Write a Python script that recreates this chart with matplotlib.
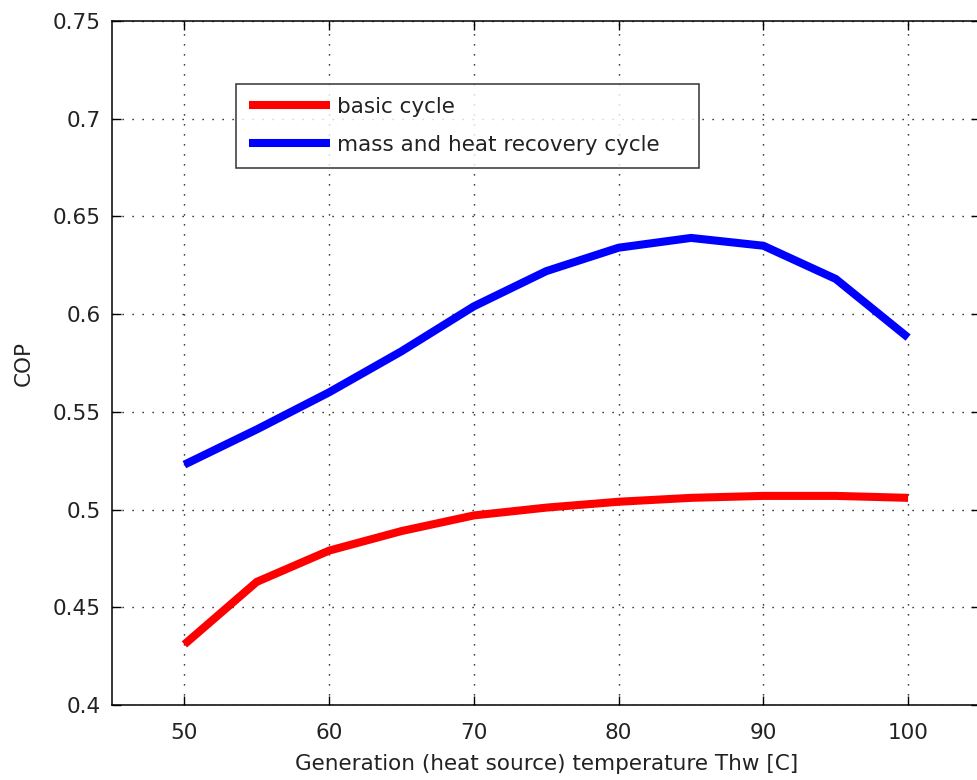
import matplotlib
matplotlib.use("Agg")
import matplotlib.pyplot as plt

# Generation temperature (C) and COP values for the two cycles
temperature = [50, 55, 60, 65, 70, 75, 80, 85, 90, 95, 100]
cop_basic = [0.431, 0.463, 0.479, 0.489, 0.497, 0.501, 0.504, 0.506, 0.507, 0.507, 0.506]
cop_recovery = [0.523, 0.541, 0.560, 0.581, 0.604, 0.622, 0.634, 0.639, 0.635, 0.618, 0.588]

labels = ["basic cycle", "mass and heat recovery cycle"]
x_ticks = [50, 60, 70, 80, 90, 100]
y_ticks = [0.4, 0.45, 0.5, 0.55, 0.6, 0.65, 0.7, 0.75]
y_tick_labels = ["0.4", "0.45", "0.5", "0.55", "0.6", "0.65", "0.7", "0.75"]

plt.rcParams["font.family"] = ["DejaVu Sans"]
FS = 15.5

W, H = 978, 780
fig = plt.figure(figsize=(W / 100, H / 100), dpi=100)
left, right, top, bottom = 112, 980.5, 21, 705
ax = fig.add_axes([left / W, 1 - bottom / H, (right - left) / W, (bottom - top) / H])

ax.plot(temperature, cop_basic, color="#ff0000", lw=5.8, solid_capstyle="butt",
        solid_joinstyle="miter", label=labels[0])
ax.plot(temperature, cop_recovery, color="#0000ff", lw=5.8, solid_capstyle="butt",
        solid_joinstyle="miter", label=labels[1])

ax.set_xlim(45, 105)
ax.set_ylim(0.4, 0.75)
ax.set_xticks(x_ticks)
ax.set_yticks(y_ticks)
ax.set_yticklabels(y_tick_labels)

ax.tick_params(direction="in", length=6.5, width=1.0, labelsize=FS,
               top=True, right=True, colors="black", labelcolor="#222222")
ax.tick_params(axis="x", pad=13)
ax.tick_params(axis="y", pad=8)
ax.grid(True, color="black", linestyle=(0, (0.9, 6.3)), linewidth=1.0)
for s in ax.spines.values():
    s.set_linewidth(1.1)
    s.set_color("black")

ax.set_xlabel("Generation (heat source) temperature Thw [C]", fontsize=FS,
              color="#222222", labelpad=8)
ax.set_ylabel("COP", fontsize=FS, color="#222222", labelpad=14)

# Legend box placed in pixel coordinates of the figure
lx0, ly0, lx1, ly1 = 236, 84, 699, 168
leg = ax.legend(loc="upper left",
                bbox_to_anchor=(lx0 / W, 1 - ly1 / H, (lx1 - lx0) / W, (ly1 - ly0) / H),
                bbox_transform=fig.transFigure, mode="expand",
                fontsize=FS, frameon=True, fancybox=False, handlelength=3.75,
                handletextpad=0.35, borderpad=0.6, labelspacing=0.84,
                borderaxespad=0.0)
leg.get_frame().set_edgecolor("black")
leg.get_frame().set_linewidth(1.1)
for t in leg.get_texts():
    t.set_color("#222222")

fig.savefig("out.png", dpi=100)
